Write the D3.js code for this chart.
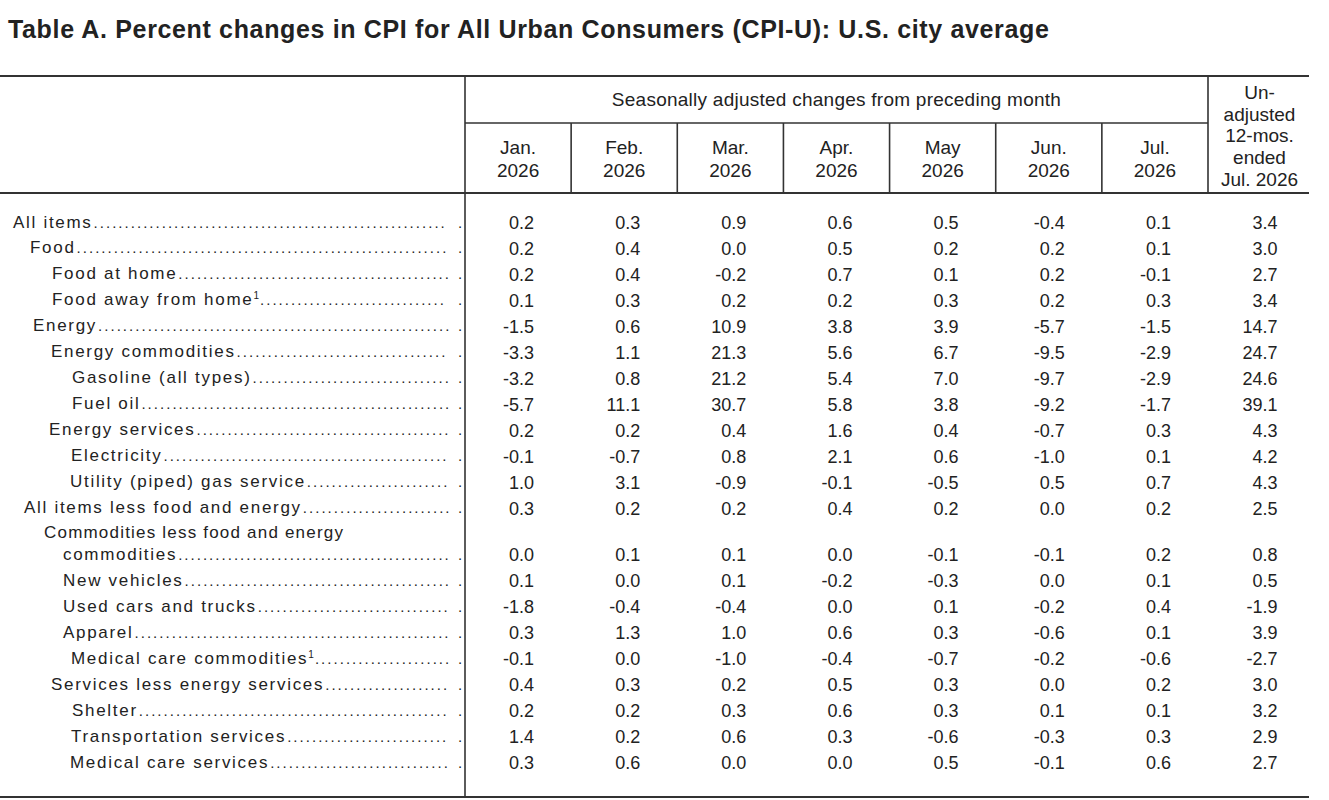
<!DOCTYPE html>
<html>
<head>
<meta charset="utf-8">
<script src="https://cdn.jsdelivr.net/npm/d3@7"></script>
<style>
  body { margin: 0; background: #fff; }
  svg text { font-family: "Liberation Sans", Arial, sans-serif; fill: #222; }
</style>
</head>
<body>
<svg id="chart" width="1329" height="800"></svg>
<script>
// ---- data ----
const title = "Table A. Percent changes in CPI for All Urban Consumers (CPI-U): U.S. city average";
const groupHeader = "Seasonally adjusted changes from preceding month";
const months = ["Jan.|2026", "Feb.|2026", "Mar.|2026", "Apr.|2026", "May|2026", "Jun.|2026", "Jul.|2026"];
const lastHeader = ["Un-", "adjusted", "12-mos.", "ended", "Jul. 2026"];

const items = [
  "All items", "Food", "Food at home", "Food away from home^1", "Energy",
  "Energy commodities", "Gasoline (all types)", "Fuel oil", "Energy services",
  "Electricity", "Utility (piped) gas service", "All items less food and energy",
  "Commodities less food and energy|commodities", "New vehicles", "Used cars and trucks",
  "Apparel", "Medical care commodities^1", "Services less energy services",
  "Shelter", "Transportation services", "Medical care services"
];

const jan = [0.2, 0.2, 0.2, 0.1, -1.5, -3.3, -3.2, -5.7, 0.2, -0.1, 1.0, 0.3, 0.0, 0.1, -1.8, 0.3, -0.1, 0.4, 0.2, 1.4, 0.3];
const feb = [0.3, 0.4, 0.4, 0.3, 0.6, 1.1, 0.8, 11.1, 0.2, -0.7, 3.1, 0.2, 0.1, 0.0, -0.4, 1.3, 0.0, 0.3, 0.2, 0.2, 0.6];
const mar = [0.9, 0.0, -0.2, 0.2, 10.9, 21.3, 21.2, 30.7, 0.4, 0.8, -0.9, 0.2, 0.1, 0.1, -0.4, 1.0, -1.0, 0.2, 0.3, 0.6, 0.0];
const apr = [0.6, 0.5, 0.7, 0.2, 3.8, 5.6, 5.4, 5.8, 1.6, 2.1, -0.1, 0.4, 0.0, -0.2, 0.0, 0.6, -0.4, 0.5, 0.6, 0.3, 0.0];
const may = [0.5, 0.2, 0.1, 0.3, 3.9, 6.7, 7.0, 3.8, 0.4, 0.6, -0.5, 0.2, -0.1, -0.3, 0.1, 0.3, -0.7, 0.3, 0.3, -0.6, 0.5];
const jun = [-0.4, 0.2, 0.2, 0.2, -5.7, -9.5, -9.7, -9.2, -0.7, -1.0, 0.5, 0.0, -0.1, 0.0, -0.2, -0.6, -0.2, 0.0, 0.1, -0.3, -0.1];
const jul = [0.1, 0.1, -0.1, 0.3, -1.5, -2.9, -2.9, -1.7, 0.3, 0.1, 0.7, 0.2, 0.2, 0.1, 0.4, 0.1, -0.6, 0.2, 0.1, 0.3, 0.6];
const yoy = [3.4, 3.0, 2.7, 3.4, 14.7, 24.7, 24.6, 39.1, 4.3, 4.2, 4.3, 2.5, 0.8, 0.5, -1.9, 3.9, -2.7, 3.0, 3.2, 2.9, 2.7];

const monthly = [jan, feb, mar, apr, may, jun, jul];

// ---- layout ----
const svg = d3.select("#chart");
const left = 0, right = 1309, stub = 465, split = 1208;
const topRule = 76, midRule = 123, headRule = 193, bottomRule = 797;
// label indents (px) per row
const indent = [13, 30, 52, 52, 33, 51, 72, 72, 49, 71, 70, 24, 44, 63, 63, 63, 71, 51, 72, 71, 70];

const x = d3.scaleBand().domain(months).range([stub, split]);
const xLast = d3.scaleBand().domain(["yoy"]).range([split, right]);
// the wrapped row takes a bit under one extra line
const slot = i => i + (i >= 12 ? 0.77 : 0);
const y = d3.scaleLinear().domain([0, slot(20)]).range([222, 762]);
// plain hyphen for negatives, like the source table
const fmt = d3.formatLocale({ decimal: ".", thousands: ",", grouping: [3], currency: ["", ""], minus: "-" }).format(".1f");

svg.append("text")
  .attr("x", 8).attr("y", 37.5)
  .style("font-size", "25px").style("font-weight", "bold").style("letter-spacing", "0.65px")
  .text(title);

const line = (x1, y1, x2, y2, w) => svg.append("line")
  .attr("x1", x1).attr("y1", y1).attr("x2", x2).attr("y2", y2)
  .attr("stroke", "#333").attr("stroke-width", w);

line(left, topRule, right, topRule, 2);
line(left, headRule, right, headRule, 2);
line(left, bottomRule, right, bottomRule, 2);
line(stub, topRule, stub, bottomRule, 1.6);
line(split, topRule, split, headRule, 1.6);
line(stub, midRule, split, midRule, 1.6);
months.slice(1).forEach(m => line(x(m), midRule, x(m), headRule, 1.6));

svg.append("text")
  .attr("x", (stub + split) / 2).attr("y", 106)
  .attr("text-anchor", "middle")
  .style("font-size", "19px").style("letter-spacing", "0.25px")
  .text(groupHeader);

// month headers
svg.selectAll("text.month")
  .data(months)
  .join("text")
  .attr("class", "month")
  .attr("text-anchor", "middle")
  .style("font-size", "19px")
  .attr("transform", d => `translate(${x(d) + x.bandwidth() / 2},0)`)
  .selectAll("tspan")
  .data(d => d.split("|"))
  .join("tspan")
  .attr("x", 0)
  .attr("y", (d, i) => 153.5 + i * 23.2)
  .text(d => d);

svg.append("text")
  .attr("text-anchor", "middle")
  .style("font-size", "19px")
  .selectAll("tspan")
  .data(lastHeader)
  .join("tspan")
  .attr("x", xLast("yoy") + xLast.bandwidth() / 2 + 1)
  .attr("y", (d, i) => 99 + i * 21.7)
  .text(d => d);

// row labels with dot leaders
const labelSize = 17, dotEnd = 452, dotStep = 6.2;
const labels = svg.append("g");
items.forEach((name, i) => {
  const parts = name.split("|");
  const base = y(slot(i)) + 5.5;
  if (parts.length > 1) {
    labels.append("text")
      .attr("x", indent[i]).attr("y", base - 22)
      .style("font-size", labelSize + "px").style("letter-spacing", "1.2px")
      .text(parts[0]);
  }
  const lastPart = parts[parts.length - 1];
  const xi = parts.length > 1 ? indent[i] + 19 : indent[i];
  const t = labels.append("text")
    .attr("x", xi).attr("y", base)
    .style("font-size", labelSize + "px").style("letter-spacing", "1.7px");
  const [txt, sup] = lastPart.split("^");
  t.append("tspan").text(txt);
  if (sup) {
    t.append("tspan").attr("dy", -6).style("font-size", "10px").style("letter-spacing", "0px").text(sup);
  }
  const end = xi + t.node().getComputedTextLength() + 1;
  const n = Math.max(0, Math.floor((dotEnd - end) / dotStep));
  labels.append("text")
    .attr("x", end).attr("y", base)
    .style("font-size", "15px").style("letter-spacing", (dotStep - 4.17) + "px")
    .text(".".repeat(n));
  labels.append("text")
    .attr("x", 458).attr("y", base)
    .style("font-size", "15px")
    .text(".");
});

// values, right aligned in each column
monthly.forEach((series, c) => {
  const m = months[c];
  svg.append("g").selectAll("text")
    .data(series)
    .join("text")
    .attr("x", x(m) + x.bandwidth() / 2 + 16)
    .attr("y", (d, i) => y(slot(i)) + 7)
    .attr("text-anchor", "end")
    .style("font-size", "18px")
    .text(d => fmt(d));
});

svg.append("g").selectAll("text")
  .data(yoy)
  .join("text")
  .attr("x", xLast("yoy") + xLast.bandwidth() / 2 + 19)
  .attr("y", (d, i) => y(slot(i)) + 7)
  .attr("text-anchor", "end")
  .style("font-size", "18px")
  .text(d => fmt(d));
</script>
</body>
</html>
